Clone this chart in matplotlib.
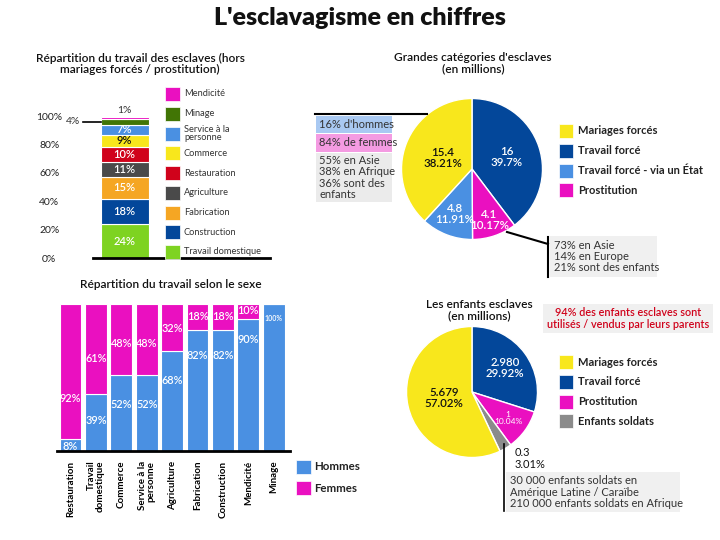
import matplotlib
matplotlib.use('Agg')
import matplotlib.pyplot as plt
from matplotlib.patches import Rectangle
import numpy as np

plt.rcParams['font.family'] = ['Lato', 'DejaVu Sans']

# ---------------- data ----------------
main_title = "L'esclavagisme en chiffres"

work_title = "Répartition du travail des esclaves (hors\nmariages forcés / prostitution)"
work_cats = ["Travail domestique", "Construction", "Fabrication", "Agriculture",
             "Restauration", "Commerce", "Service à la\npersonne", "Minage", "Mendicité"]
work_share = [24, 18, 15, 11, 10, 9, 7, 4, 1]
work_ticks = [0, 20, 40, 60, 80, 100]

sex_title = "Répartition du travail selon le sexe"
sex_cats = ["Restauration", "Travail\ndomestique", "Commerce", "Service à la\npersonne",
            "Agriculture", "Fabrication", "Construction", "Mendicité", "Minage"]
hommes = [8, 39, 52, 52, 68, 82, 82, 90, 100]
femmes = [92, 61, 48, 48, 32, 18, 18, 10, 0]
sex_series = ["Hommes", "Femmes"]

cat_title = "Grandes catégories d'esclaves\n(en millions)"
cat_names = ["Travail forcé", "Prostitution", "Travail forcé - via un État", "Mariages forcés"]
cat_values = [16, 4.1, 4.8, 15.4]
cat_pcts = [39.7, 10.17, 11.91, 38.21]
cat_legend = ["Mariages forcés", "Travail forcé", "Travail forcé - via un État", "Prostitution"]
note_hommes = "16% d'hommes"
note_femmes = "84% de femmes"
note_mariages = "55% en Asie\n38% en Afrique\n36% sont des\nenfants"
note_prost = "73% en Asie\n14% en Europe\n21% sont des enfants"

kid_title = "Les enfants esclaves\n(en millions)"
kid_names = ["Travail forcé", "Prostitution", "Enfants soldats", "Mariages forcés"]
kid_values = [2.980, 1, 0.3, 5.679]
kid_value_text = ["2.980", "1", "0.3", "5.679"]
kid_pcts = [29.92, 10.04, 3.01, 57.02]
kid_legend = ["Mariages forcés", "Travail forcé", "Prostitution", "Enfants soldats"]
note_parents = "94% des enfants esclaves sont\nutilisés / vendus par leurs parents"
note_soldats = "30 000 enfants soldats en\nAmérique Latine / Caraïbe\n210 000 enfants soldats en Afrique"

# ---------------- styles ----------------
YELLOW = '#F8E71C'
DBLUE = '#03479A'
LBLUE = '#4A90E2'
MAGENTA = '#EA10C0'
GRAY = '#8B8B8B'
work_colors = ['#7ED321', DBLUE, '#F5A623', '#4A4A4A', '#D0021B', YELLOW, LBLUE, '#417505', MAGENTA]
cat_colors = {"Mariages forcés": YELLOW, "Travail forcé": DBLUE,
              "Travail forcé - via un État": LBLUE, "Prostitution": MAGENTA,
              "Enfants soldats": GRAY}
TXT = '#333333'

W, H = 720, 540
fig = plt.figure(figsize=(7.2, 5.4), dpi=100)


def ax_px(x0, y0, x1, y1, **kw):
    return fig.add_axes([x0 / W, 1 - y1 / H, (x1 - x0) / W, (y1 - y0) / H], **kw)


ov = ax_px(0, 0, W, H, zorder=10)
ov.set_xlim(0, W)
ov.set_ylim(H, 0)
ov.axis('off')
ov.patch.set_alpha(0)

ov.text(360, 18, main_title, ha='center', va='center', fontsize=18, fontweight='heavy', color='#111111')

# ---------------- chart 1: stacked bar ----------------
ov.text(140, 64, work_title, ha='center', va='center', fontsize=8.6, fontweight='semibold',
        color='#111111', linespacing=1.05)
ax1 = ax_px(93, 116, 270, 258.5)
ax1.set_xlim(-0.66, 3.03)
ax1.set_ylim(0, 100)
bottom = 0
for name, v, c in zip(work_cats, work_share, work_colors):
    ax1.bar(0, v, bottom=bottom, width=1, color=c, edgecolor='white', linewidth=0.8)
    mid = bottom + v / 2
    if v >= 5:
        ax1.text(0, mid, f"{v}%", ha='center', va='center', fontsize=8, fontweight='semibold',
                 color='#111111' if c == YELLOW else 'white')
    elif v >= 2:
        ax1.plot([-0.87, -0.5], [mid, mid], color='black', lw=1.2, clip_on=False)
        ax1.text(-0.92, mid, f"{v}%", ha='right', va='center', fontsize=7.5, color=TXT, clip_on=False)
    else:
        ax1.text(0, bottom + v + 2, f"{v}%", ha='center', va='bottom', fontsize=7.5, color=TXT)
    bottom += v
for s in ['top', 'right', 'left']:
    ax1.spines[s].set_visible(False)
ax1.spines['bottom'].set_linewidth(2)
ax1.set_xticks([])
ax1.set_yticks(work_ticks, [f"{t}%" for t in work_ticks])
ax1.tick_params(axis='y', length=0, pad=31.5, labelsize=7.5, labelcolor='#222222')
for lab in ax1.get_yticklabels():
    lab.set_ha('center')

for i, (name, c) in enumerate(zip(work_cats[::-1], work_colors[::-1])):
    yc = 94 + i * 19.75
    ov.add_patch(Rectangle((165, yc - 7), 14.5, 14, facecolor=c, edgecolor='white', lw=0.5))
    ov.text(184, yc, name, ha='left', va='center', fontsize=6.7, color=TXT, linespacing=1.0)

# ---------------- chart 2: sex bars ----------------
ov.text(171, 284, sex_title, ha='center', va='center', fontsize=8.6, fontweight='semibold', color='#111111')
ax2 = ax_px(57, 304, 290, 451)
ax2.set_xlim(-0.53, 8.64)
ax2.set_ylim(0, 100)
x = np.arange(len(sex_cats))
ax2.bar(x, hommes, width=0.86, color=LBLUE, edgecolor='white', linewidth=0.8)
ax2.bar(x, femmes, bottom=hommes, width=0.86, color=MAGENTA, edgecolor='white', linewidth=0.8)
for xi, h, f in zip(x, hommes, femmes):
    if h > 0:
        ax2.text(xi, h * (0.3 + 0.006 * h), f"{h}%", ha='center', va='center',
                 fontsize=5 if h == 100 else 7.8, color='white', fontweight='semibold')
    if f > 0:
        ax2.text(xi, 100 - f * (0.42 + 0.003 * f), f"{f}%", ha='center', va='center',
                 fontsize=7.8, color='white', fontweight='semibold')
for s in ['top', 'right', 'left']:
    ax2.spines[s].set_visible(False)
ax2.spines['bottom'].set_linewidth(2)
ax2.set_yticks([])
ax2.set_xticks(x, sex_cats, rotation=90, fontsize=7, fontweight='bold', va='top', ha='center',
               multialignment='right', linespacing=1.0)
ax2.tick_params(axis='x', length=0, pad=7)

for i, (name, c) in enumerate(zip(sex_series, [LBLUE, MAGENTA])):
    yc = 467 + i * 21
    ov.add_patch(Rectangle((296, yc - 7), 15, 14, facecolor=c, edgecolor='white', lw=0.5))
    ov.text(314, yc, name, ha='left', va='center', fontsize=8.3, fontweight='bold', color='#222222')


# ---------------- pies ----------------
def draw_pie(cx, cy, r, values, names, dists, texts, colors_txt, sizes, weights):
    ax = ax_px(cx - r, cy - r, cx + r, cy + r)
    wedges, _ = ax.pie(values, colors=[cat_colors[n] for n in names], startangle=90,
                       counterclock=False, radius=1,
                       wedgeprops=dict(edgecolor='white', linewidth=1))
    ax.set_xlim(-1, 1)
    ax.set_ylim(-1, 1)
    ax.axis('off')
    for w, d, t, tc, fs, fw in zip(wedges, dists, texts, colors_txt, sizes, weights):
        if d is None:
            continue
        ang = np.deg2rad((w.theta1 + w.theta2) / 2)
        ax.text(d * np.cos(ang), d * np.sin(ang), t, ha='center', va='center',
                fontsize=fs, fontweight=fw, color=tc, linespacing=1.0)
    return ax


def pie_legend(names, y0):
    for i, n in enumerate(names):
        yc = y0 + i * 19.8
        ov.add_patch(Rectangle((559, yc - 7), 14, 14, facecolor=cat_colors[n], edgecolor='white', lw=0.5))
        ov.text(578, yc, n, ha='left', va='center', fontsize=8, fontweight='bold', color='#222222')


# pie 1
ov.text(473, 63.5, cat_title, ha='center', va='center', fontsize=8.6, fontweight='semibold',
        color='#111111', linespacing=1.05)
draw_pie(472, 169, 70.5, cat_values, cat_names, [0.52, 0.77, 0.69, 0.44],
         [f"{v:g}\n{p:g}%" for v, p in zip(cat_values, cat_pcts)],
         ['white', 'white', 'white', '#111111'], [8.3] * 4, ['semibold'] * 4)
pie_legend(cat_legend, 131)

ov.plot([315, 427], [114, 114], color='black', lw=1.5)
ov.add_patch(Rectangle((316, 116), 76, 17, facecolor='#A9C9F2', edgecolor='none'))
ov.text(319, 124.5, note_hommes, ha='left', va='center', fontsize=8, color=TXT)
ov.add_patch(Rectangle((316, 134), 76, 18, facecolor='#F49BE2', edgecolor='none'))
ov.text(319, 143, note_femmes, ha='left', va='center', fontsize=8, color=TXT)
ov.add_patch(Rectangle((316, 153), 76, 49, facecolor='#EBEBEB', edgecolor='none'))
ov.text(319, 177.5, note_mariages, ha='left', va='center', fontsize=8, color=TXT, linespacing=1.03)

ov.plot([507, 548], [232, 244], color='black', lw=1.5)
ov.plot([548, 548], [237, 277], color='black', lw=1.5)
ov.add_patch(Rectangle((550, 236), 107, 41, facecolor='#F0F0F0', edgecolor='none'))
ov.text(554, 256.5, note_prost, ha='left', va='center', fontsize=8, color=TXT, linespacing=1.03)

# pie 2
ov.text(479, 310, kid_title, ha='center', va='center', fontsize=8.6, fontweight='semibold',
        color='#111111', linespacing=1.05)
draw_pie(472, 392, 65.5, kid_values, kid_names, [0.63, 0.68, None, 0.44],
         [f"{t}\n{p:g}%" for t, p in zip(kid_value_text, kid_pcts)],
         ['white', 'white', 'black', '#111111'], [8.3, 6, 8, 8.3],
         ['semibold', 'normal', 'normal', 'semibold'])
pie_legend(kid_legend, 362)

ov.text(515, 458.5, f"{kid_value_text[2]}\n{kid_pcts[2]:g}%", ha='left', va='center',
        fontsize=8, color='#111111', linespacing=1.0)
ov.plot([504, 504], [444, 511], color='black', lw=1.2)
ov.add_patch(Rectangle((506, 472), 174, 40, facecolor='#F0F0F0', edgecolor='none'))
ov.text(510, 492, note_soldats, ha='left', va='center', fontsize=8, color=TXT, linespacing=1.03)

ov.add_patch(Rectangle((543, 304), 170, 29, facecolor='#F0F0F0', edgecolor='none'))
ov.text(628, 318.5, note_parents, ha='center', va='center', fontsize=7.8, fontweight='semibold',
        color='#D0021B', linespacing=1.0)

fig.savefig('out.png', dpi=100)
